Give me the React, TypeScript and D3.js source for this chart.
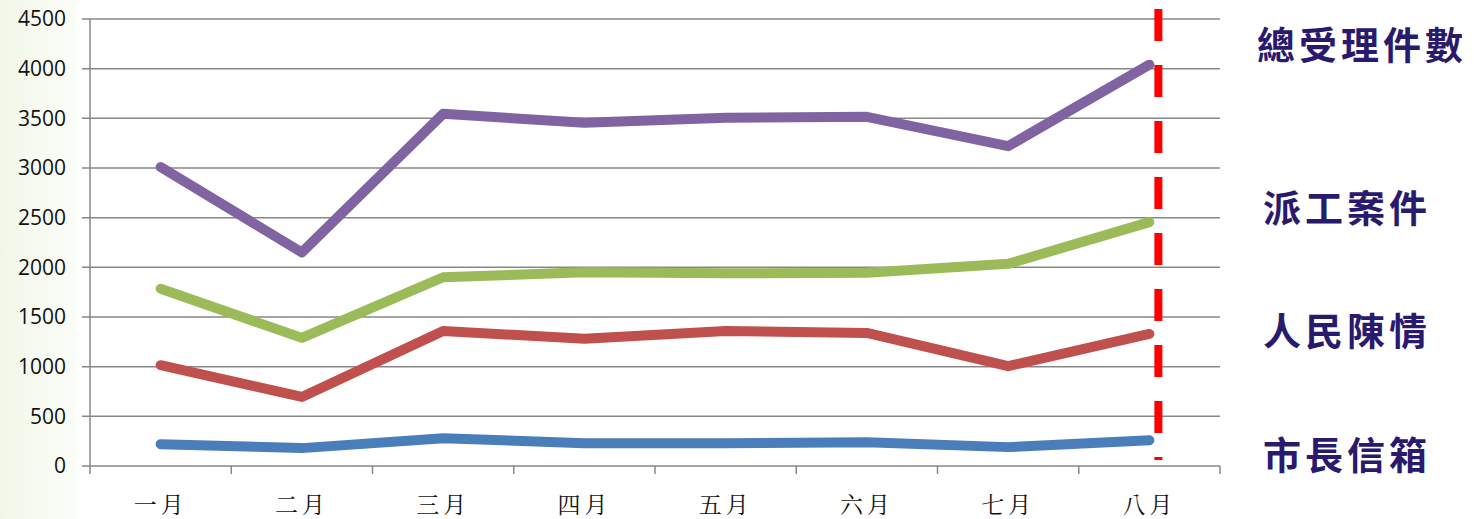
import { useEffect, useRef } from "react";
import * as d3 from "d3";

const months = ["一月", "二月", "三月", "四月", "五月", "六月", "七月", "八月"];
const totalCases = [3010, 2150, 3545, 3455, 3505, 3515, 3220, 4040];
const dispatched = [1785, 1290, 1900, 1950, 1940, 1945, 2035, 2455];
const petitions = [1015, 695, 1360, 1280, 1360, 1340, 1005, 1330];
const mayorMail = [220, 180, 280, 230, 230, 240, 190, 260];
const yTicks = [0, 500, 1000, 1500, 2000, 2500, 3000, 3500, 4000, 4500];

const series = [
  { name: "總受理件數", values: totalCases, color: "#8064A2", labelY: 42, lx: 1257 },
  { name: "派工案件", values: dispatched, color: "#9BBB59", labelY: 205, lx: 1263 },
  { name: "人民陳情", values: petitions, color: "#C0504D", labelY: 328, lx: 1263 },
  { name: "市長信箱", values: mayorMail, color: "#4A7EBB", labelY: 452, lx: 1263 },
];

const W = 1474;
const H = 519;
const m = { left: 90, right: 254, top: 19, bottom: 53 };

export default function App() {
  const ref = useRef<SVGSVGElement | null>(null);

  useEffect(() => {
    const svgEl = ref.current;
    if (!svgEl) return;
    const svg = d3.select(svgEl);
    svg.selectAll("*").remove();

    const x = d3.scaleBand<string>().domain(months).range([m.left, W - m.right]);
    const y = d3.scaleLinear().domain([0, 4500]).range([H - m.bottom, m.top]);
    const cx = (d: string) => (x(d) ?? 0) + x.bandwidth() / 2;

    // faint green wash at the left edge
    const defs = svg.append("defs");
    const grad = defs.append("linearGradient").attr("id", "wash").attr("x1", "0").attr("x2", "1");
    grad.append("stop").attr("offset", "0").attr("stop-color", "#f1f7e8");
    grad.append("stop").attr("offset", "1").attr("stop-color", "#fbfdf8");
    svg.append("rect").attr("width", W).attr("height", H).attr("fill", "#fff");
    svg.append("rect").attr("x", 0).attr("y", 0).attr("width", 77).attr("height", H).attr("fill", "url(#wash)");

    // gridlines + y axis
    const gy = svg.append("g");
    gy.selectAll("line.grid")
      .data(yTicks)
      .join("line")
      .attr("x1", m.left - 8)
      .attr("x2", W - m.right)
      .attr("y1", (d) => y(d))
      .attr("y2", (d) => y(d))
      .attr("stroke", "#878787")
      .attr("stroke-width", 1.5);
    gy.selectAll("text")
      .data(yTicks)
      .join("text")
      .attr("x", 66)
      .attr("y", (d) => y(d))
      .attr("dy", "0.35em")
      .attr("text-anchor", "end")
      .attr("font-family", "'Open Sans', 'Liberation Sans', sans-serif")
      .attr("font-size", 21)
      .attr("fill", "#111")
      .text((d) => d);

    svg.append("line")
      .attr("x1", m.left).attr("x2", m.left)
      .attr("y1", m.top).attr("y2", y(0))
      .attr("stroke", "#878787").attr("stroke-width", 1.5);

    // x axis ticks at band edges
    const edges = months.map((d) => x(d) ?? 0).concat([W - m.right]);
    svg.append("g")
      .selectAll("line")
      .data(edges)
      .join("line")
      .attr("x1", (d) => d).attr("x2", (d) => d)
      .attr("y1", y(0)).attr("y2", y(0) + 8)
      .attr("stroke", "#878787").attr("stroke-width", 1.5);
    svg.append("g")
      .selectAll("text")
      .data(months)
      .join("text")
      .attr("x", (d) => cx(d))
      .attr("y", 503)
      .attr("dominant-baseline", "central")
      .attr("text-anchor", "middle")
      .attr("font-family", "'Noto Serif CJK TC', 'Noto Sans CJK TC', serif")
      .attr("font-size", 23)
      .attr("letter-spacing", 4)
      .attr("fill", "#111")
      .text((d) => d);

    // series lines
    const line = d3
      .line<number>()
      .x((_, i) => cx(months[i]))
      .y((d) => y(d));
    svg.append("g")
      .selectAll("path")
      .data(series)
      .join("path")
      .attr("d", (s) => line(s.values))
      .attr("fill", "none")
      .attr("stroke", (s) => s.color)
      .attr("stroke-width", 10)
      .attr("stroke-linecap", "round")
      .attr("stroke-linejoin", "round");

    // red dashed marker after the latest month
    const rx = cx(months[months.length - 1]) + 9;
    svg.append("line")
      .attr("x1", rx).attr("x2", rx)
      .attr("y1", 9).attr("y2", 460)
      .attr("stroke", "#ff0000")
      .attr("stroke-width", 8)
      .attr("stroke-dasharray", "32 24");

    // series names on the right
    svg.append("g")
      .selectAll("text")
      .data(series)
      .join("text")
      .attr("x", (s) => s.lx)
      .attr("y", (s) => s.labelY)
      .attr("dominant-baseline", "central")
      .attr("font-family", "'Noto Sans CJK TC', sans-serif")
      .attr("font-weight", 700)
      .attr("font-size", 38)
      .attr("letter-spacing", 4)
      .attr("fill", "#2a1a6e")
      .text((s) => s.name);
  }, []);

  return (
    <div style={{ position: "fixed", left: 0, top: 0, width: W, height: H }}>
      <svg ref={ref} width={W} height={H} style={{ display: "block" }} />
    </div>
  );
}
